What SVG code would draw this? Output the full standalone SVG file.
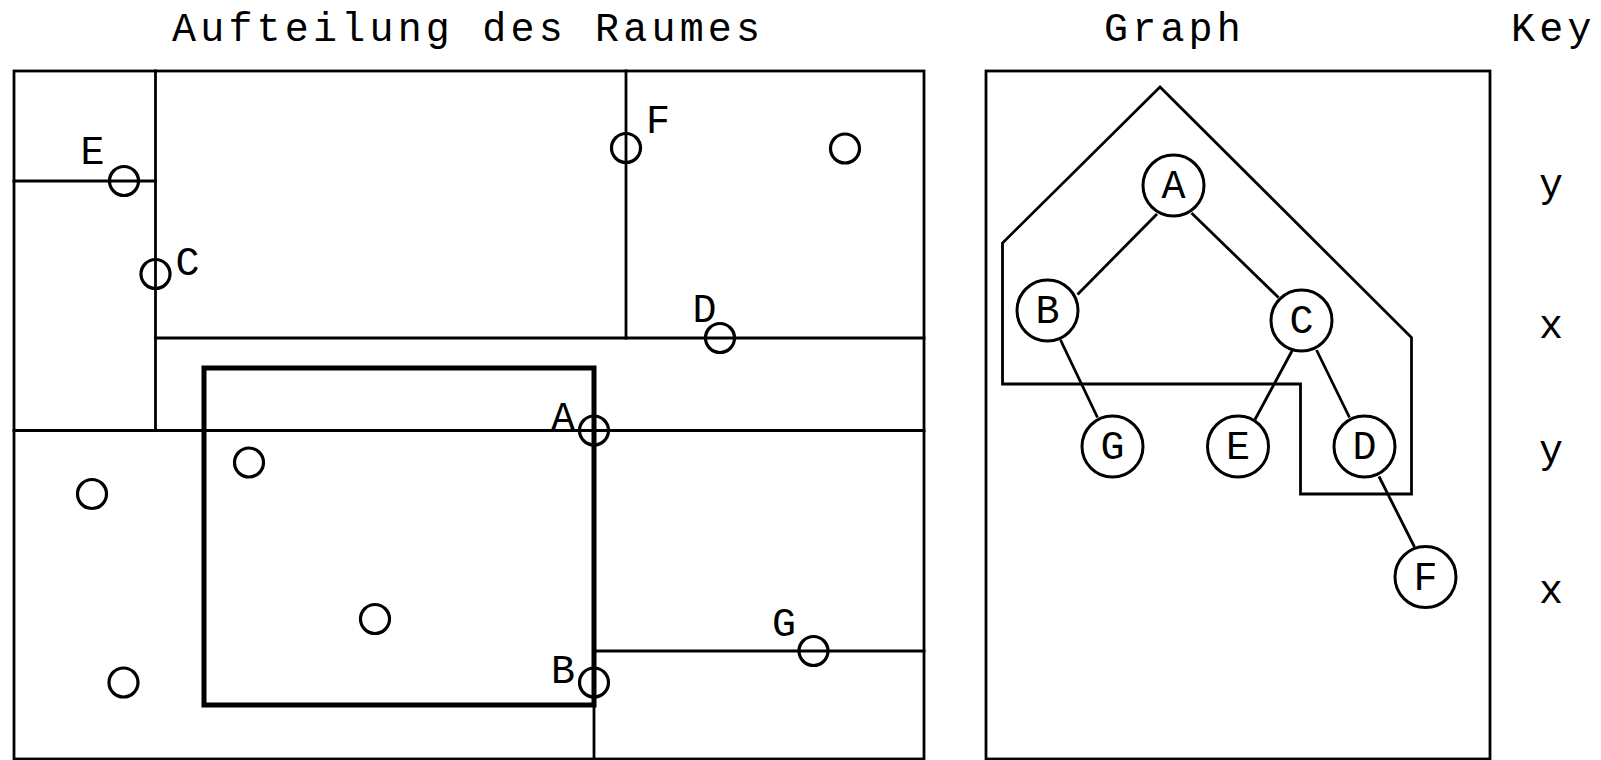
<svg xmlns="http://www.w3.org/2000/svg" width="1601" height="760" viewBox="0 0 1601 760">
<style>
  .bg{fill:#fff}
  .ln{stroke:#000;stroke-width:2.8;fill:none;stroke-linecap:square}
  .thick{stroke:#000;stroke-width:5;fill:none}
  .pt{stroke:#000;stroke-width:3.2;fill:none}
  .nd{stroke:#000;stroke-width:3;fill:#fff}
  .edge{stroke:#000;stroke-width:2.8;fill:none}
  text{font-family:"Liberation Mono","Courier New",monospace;font-size:40px;fill:#000}
  .ttl{letter-spacing:4.2px}
  .c{text-anchor:middle}
</style>
<rect class="bg" x="0" y="0" width="1601" height="760"/>

<!-- Titles -->
<text class="ttl" x="172" y="40.5">Aufteilung des Raumes</text>
<text class="ttl" x="1104" y="40.5">Graph</text>
<text class="ttl" x="1511" y="40.5">Key</text>

<!-- Space partition panel -->
<g id="partition">
  <rect class="ln" x="14" y="71" width="910" height="688"/>
  <line class="ln" x1="155.5" y1="71" x2="155.5" y2="430.5"/>
  <line class="ln" x1="14" y1="181" x2="155.5" y2="181"/>
  <line class="ln" x1="626" y1="71" x2="626" y2="338"/>
  <line class="ln" x1="155.5" y1="338" x2="924" y2="338"/>
  <line class="ln" x1="14" y1="430.5" x2="924" y2="430.5"/>
  <line class="ln" x1="594" y1="430.5" x2="594" y2="759"/>
  <line class="ln" x1="594" y1="651" x2="924" y2="651"/>
  <rect class="thick" x="204" y="368" width="390" height="337"/>
</g>

<g id="points">
  <circle class="pt" cx="124" cy="181" r="14.5"/>
  <circle class="pt" cx="155.5" cy="274" r="14.5"/>
  <circle class="pt" cx="626" cy="148" r="14.5"/>
  <circle class="pt" cx="845" cy="148.5" r="14.5"/>
  <circle class="pt" cx="720" cy="338" r="14.5"/>
  <circle class="pt" cx="594" cy="430.5" r="14.5"/>
  <circle class="pt" cx="249" cy="462.5" r="14.5"/>
  <circle class="pt" cx="92" cy="494" r="14.5"/>
  <circle class="pt" cx="375" cy="619" r="14.5"/>
  <circle class="pt" cx="123.5" cy="682.5" r="14.5"/>
  <circle class="pt" cx="813.5" cy="651" r="14.5"/>
  <circle class="pt" cx="594" cy="682.5" r="14.5"/>
</g>

<g id="point-labels">
  <text class="c" x="92.5" y="164">E</text>
  <text class="c" x="187.5" y="275">C</text>
  <text class="c" x="658" y="133">F</text>
  <text class="c" x="704.5" y="322">D</text>
  <text class="c" x="563" y="430">A</text>
  <text class="c" x="784" y="636">G</text>
  <text class="c" x="563" y="683">B</text>
</g>

<!-- Graph panel -->
<g id="graph-frame">
  <rect class="ln" x="986" y="71" width="504" height="688"/>
  <polygon class="ln" points="1160,87 1002.5,243 1002.5,384 1300.5,384 1300.5,494 1411.5,494 1411.5,337.5"/>
</g>

<g id="connectors">
  <line class="edge" x1="1157" y1="214" x2="1077.5" y2="294.5"/>
  <line class="edge" x1="1191.5" y1="213" x2="1278.5" y2="297.5"/>
  <line class="edge" x1="1060.5" y1="340" x2="1097.5" y2="417.5"/>
  <line class="edge" x1="1292.5" y1="350" x2="1255" y2="419.5"/>
  <line class="edge" x1="1316.5" y1="350" x2="1349.5" y2="417.5"/>
  <line class="edge" x1="1379" y1="476.5" x2="1414.5" y2="547"/>
</g>

<g id="node-A"><circle class="nd" cx="1173.5" cy="185.5" r="30.5"/><text class="c" x="1173.5" y="198">A</text></g>
<g id="node-B"><circle class="nd" cx="1047.5" cy="310.5" r="30.5"/><text class="c" x="1047.5" y="323">B</text></g>
<g id="node-C"><circle class="nd" cx="1301.5" cy="320.5" r="30.5"/><text class="c" x="1301.5" y="333">C</text></g>
<g id="node-G"><circle class="nd" cx="1112.5" cy="446.5" r="30.5"/><text class="c" x="1112.5" y="459">G</text></g>
<g id="node-E"><circle class="nd" cx="1238" cy="446.5" r="30.5"/><text class="c" x="1238" y="459">E</text></g>
<g id="node-D"><circle class="nd" cx="1364.5" cy="446.5" r="30.5"/><text class="c" x="1364.5" y="459">D</text></g>
<g id="node-F"><circle class="nd" cx="1425.5" cy="577" r="30.5"/><text class="c" x="1425.5" y="589.5">F</text></g>

<g id="key">
  <text class="c" x="1551" y="197">y</text>
  <text class="c" x="1551" y="338">x</text>
  <text class="c" x="1551" y="463">y</text>
  <text class="c" x="1551" y="603">x</text>
</g>
</svg>
